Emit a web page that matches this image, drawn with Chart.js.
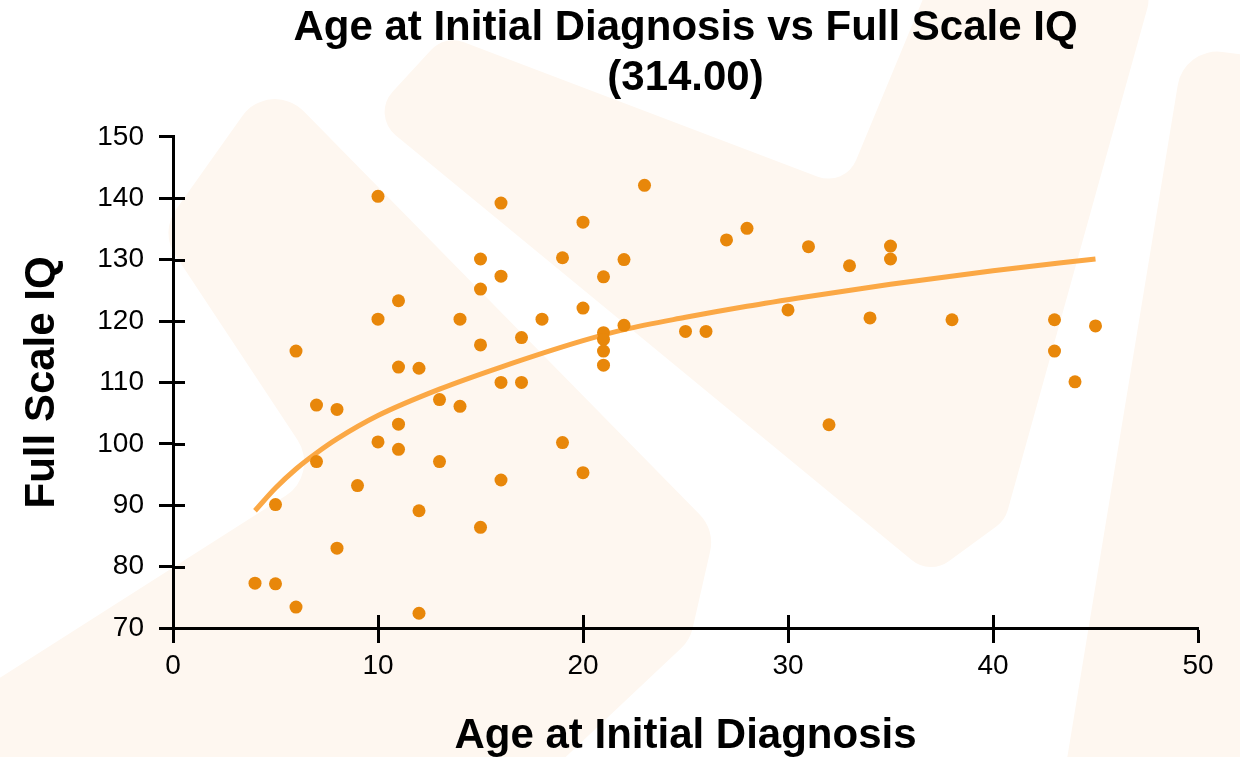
<!DOCTYPE html>
<html>
<head>
<meta charset="utf-8">
<title>Age at Initial Diagnosis vs Full Scale IQ</title>
<script src="https://cdn.jsdelivr.net/npm/chart.js"></script>
<style>
  html, body { margin: 0; padding: 0; background: #fff; }
  #wrap { width: 1240px; height: 757px; position: relative; }
</style>
</head>
<body>
<div id="wrap"><canvas id="grafico"></canvas></div>
<script>
// Idade no diagnóstico x QI total (um ponto por paciente)
const idades = [4, 5, 6, 6, 5, 7, 7, 8, 8, 9,
                10, 10, 10, 11, 11, 11, 11, 12, 12, 12,
                13, 13, 14, 14, 15, 15, 15, 15, 16, 16,
                16, 16, 17, 17, 18, 19, 19, 20, 20, 20,
                21, 21, 21, 21, 21, 22, 22, 23, 25, 26,
                27, 28, 30, 31, 32, 33, 34, 35, 35, 38,
                43, 43, 44, 45];
const qi = [77.3, 77.2, 73.4, 115.1, 90.1, 106.3, 97.1, 105.6, 83.0, 93.2,
            140.3, 120.3, 100.3, 123.3, 112.5, 103.2, 99.1, 112.3, 89.1, 72.4,
            107.2, 97.1, 120.3, 106.1, 130.1, 125.2, 116.1, 86.4, 139.2, 127.3,
            110.0, 94.1, 117.3, 110.0, 120.3, 130.3, 100.2, 136.1, 122.1, 95.3,
            127.2, 118.1, 117.0, 115.1, 112.8, 130.0, 119.3, 142.1, 118.3, 118.3,
            133.2, 135.1, 121.8, 132.1, 103.1, 129.0, 120.5, 132.2, 130.1, 120.2,
            120.2, 115.1, 110.1, 119.2];

// Linha de tendência
const tendenciaIdade = [4, 5, 6, 7, 8, 10, 13, 16, 20, 22, 25, 28, 31, 35, 40, 45];
const tendenciaQi = [89.1, 92.8, 95.9, 98.5, 100.8, 104.6, 108.9, 112.5, 116.8, 118.6, 120.6, 122.4, 124.0, 126.0, 128.2, 130.1];

// Marcas dos eixos
const ticksX = [0, 10, 20, 30, 40, 50];
const ticksY = [70, 80, 90, 100, 110, 120, 130, 140, 150];

const corPonto = '#e8870a';
const corLinha = '#fba845';
const fonteTexto = "'Liberation Sans', Arial, Helvetica, sans-serif";

// Formas claras do fundo (marca d'água)
const formasFundo = [
    { r: 40, pts: [[270, 77], [715, 530], [690, 640], [520, 800], [-60, 800], [-60, 716], [320, 474], [160, 232]] },
    { r: 30, pts: [[371, 115], [445, 35], [845, 187], [935, -30], [1158, -30], [1005, 520], [930, 575]] },
    { r: 40, pts: [[1184, 47], [1300, 62], [1300, 820], [1057, 820]] }
];

const marcaDagua = {
    id: 'marcaDagua',
    beforeDraw(chart) {
        const ctx = chart.ctx;
        ctx.save();
        ctx.fillStyle = '#fef7f0';
        formasFundo.forEach(f => {
            const p = f.pts;
            const n = p.length;
            ctx.beginPath();
            ctx.moveTo((p[n - 1][0] + p[0][0]) / 2, (p[n - 1][1] + p[0][1]) / 2);
            for (let i = 0; i < n; i++) {
                const a = p[i];
                const b = p[(i + 1) % n];
                ctx.arcTo(a[0], a[1], b[0], b[1], f.r);
            }
            ctx.closePath();
            ctx.fill();
        });
        ctx.restore();
    }
};

// Parte interna dos ticks (cruzando o eixo)
const ticksInternos = {
    id: 'ticksInternos',
    beforeDatasetsDraw(chart) {
        const { ctx, chartArea, scales: { x, y } } = chart;
        ctx.save();
        ctx.strokeStyle = '#000';
        ctx.lineWidth = 3;
        ctx.beginPath();
        x.ticks.forEach(t => {
            if (t.value > x.min && t.value < x.max) {
                const px = Math.round(x.getPixelForValue(t.value)) + 0.5;
                ctx.moveTo(px, chartArea.bottom);
                ctx.lineTo(px, chartArea.bottom - 13);
            }
        });
        y.ticks.forEach(t => {
            if (t.value > y.min && t.value < y.max) {
                const py = Math.round(y.getPixelForValue(t.value)) + 0.5;
                ctx.moveTo(chartArea.left, py);
                ctx.lineTo(chartArea.left + 12, py);
            }
        });
        ctx.stroke();
        ctx.restore();
    }
};

const pontos = idades.map((v, i) => ({ x: v, y: qi[i] }));
const tendencia = tendenciaIdade.map((v, i) => ({ x: v, y: tendenciaQi[i] }));

const gradeEixo = {
    display: true,
    drawOnChartArea: false,
    drawTicks: true,
    tickWidth: 3,
    tickColor: '#000',
    color: '#000'
};

new Chart(document.getElementById('grafico'), {
    type: 'scatter',
    data: {
        datasets: [
            {
                type: 'scatter',
                label: 'Pacientes',
                data: pontos,
                backgroundColor: corPonto,
                borderColor: corPonto,
                pointRadius: 6.5,
                pointBorderWidth: 0,
                order: 0
            },
            {
                type: 'line',
                label: 'Tendência',
                data: tendencia,
                borderColor: corLinha,
                borderWidth: 5,
                pointRadius: 0,
                fill: false,
                cubicInterpolationMode: 'monotone',
                order: 1
            }
        ]
    },
    options: {
        responsive: true,
        maintainAspectRatio: false,
        devicePixelRatio: 1,
        animation: false,
        layout: { padding: { left: 0, right: 42, top: 0, bottom: 0 } },
        plugins: {
            legend: { display: false },
            tooltip: { enabled: false },
            title: {
                display: true,
                fullSize: false,
                text: ['Age at Initial Diagnosis vs Full Scale IQ', '(314.00)'],
                color: '#000',
                font: { family: fonteTexto, size: 42, weight: 'bold', lineHeight: 1.2 },
                padding: { top: 3, bottom: 33 }
            }
        },
        scales: {
            x: {
                type: 'linear',
                min: 0,
                max: 50,
                afterBuildTicks: s => { s.ticks = ticksX.map(v => ({ value: v })); },
                afterFit: s => { s.height = 129; },
                border: { display: true, color: '#000', width: 3 },
                grid: Object.assign({ tickLength: 15 }, gradeEixo),
                ticks: {
                    color: '#000',
                    padding: 6,
                    maxRotation: 0,
                    font: { family: fonteTexto, size: 28 }
                },
                title: {
                    display: true,
                    text: 'Age at Initial Diagnosis',
                    color: '#000',
                    font: { family: fonteTexto, size: 42, weight: 'bold', lineHeight: 1 },
                    padding: { top: 0, bottom: 0 }
                }
            },
            y: {
                type: 'linear',
                min: 70,
                max: 150,
                afterBuildTicks: s => { s.ticks = ticksY.map(v => ({ value: v })); },
                afterFit: s => { s.width = 173; },
                border: { display: true, color: '#000', width: 3 },
                grid: Object.assign({ tickLength: 14 }, gradeEixo),
                ticks: {
                    color: '#000',
                    padding: 15,
                    font: { family: fonteTexto, size: 28 }
                },
                title: {
                    display: true,
                    text: 'Full Scale IQ',
                    color: '#000',
                    font: { family: fonteTexto, size: 42, weight: 'bold', lineHeight: 1 },
                    padding: { top: 21, bottom: 0 }
                }
            }
        }
    },
    plugins: [marcaDagua, ticksInternos]
});
</script>
</body>
</html>
